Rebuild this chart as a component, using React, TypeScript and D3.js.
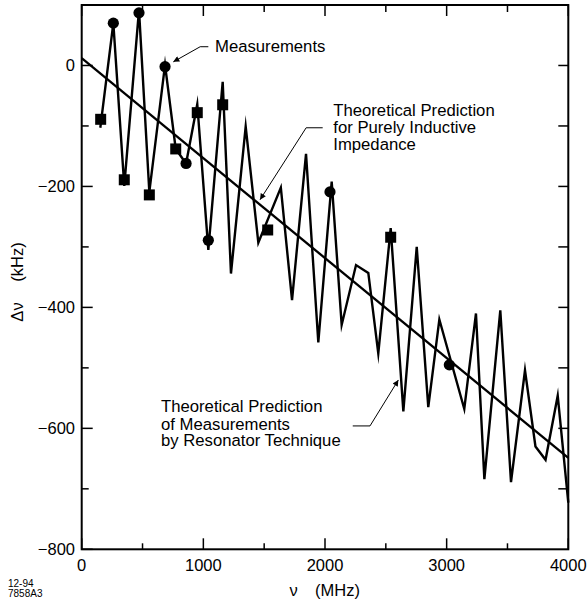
import React from 'react'
import * as d3 from 'd3'

// resonator-technique prediction (zigzag), MHz / kHz
const predFreq = [153, 260, 350, 471, 556, 685, 773, 858, 950, 1041, 1159, 1227, 1348, 1452, 1637, 1729, 1844, 1945, 2055, 2137, 2255, 2356, 2438, 2540, 2644, 2754, 2849, 2940, 3145, 3241, 3310, 3441, 3529, 3644, 3730, 3813, 3913, 4000]
const predShift = [-103, 70, -199, 92, -209, 1, -138, -162, -64, -305, -27, -344, -101, -293, -202, -388, -146, -458, -192, -429, -330, -343, -476, -269, -572, -300, -565, -420, -568, -410, -684, -405, -689, -504, -630, -652, -546, -723]

// measurements
const measFreq = [156, 260, 350, 471, 556, 685, 773, 858, 950, 1041, 1159, 1529, 2041, 2540, 3022]
const measShift = [-89, 70, -189, 87, -214, -2, -138, -162, -78, -289, -65, -272, -209, -284, -495]
const measShape = ['square', 'circle', 'square', 'circle', 'square', 'circle', 'square', 'circle', 'square', 'circle', 'square', 'square', 'circle', 'square', 'circle']

// purely inductive impedance (straight line)
const inductiveFreq = [0, 4000]
const inductiveShift = [12, -649]

const xMajor = [0, 1000, 2000, 3000, 4000]
const xMinor = [500, 1500, 2500, 3500]
const yMajor = [-800, -600, -400, -200, 0]
const yMinor = [-700, -500, -300, -100]
const yRight = [-700, -600, -500, -400, -300, -200, -100, 0]

const font = '"Liberation Sans", Arial, Helvetica, sans-serif'

export default function App() {
  const width = 588
  const height = 605
  const x = d3.scaleLinear().domain([0, 4000]).range([81.7, 568.3])
  const y = d3.scaleLinear().domain([-800, 100]).range([549.3, 5])
  const [x0, x1] = x.range()
  const [y0, y1] = y.range()

  const line = d3
    .line<number>()
    .x((d, i) => x(predFreq[i]))
    .y((d) => y(d))

  const fmt = (v: number) => (v < 0 ? '\u2212' + Math.abs(v) : String(v))

  // leader lines (data coordinates)
  const leaders = [
    { pts: [[1041, 31], [974, 31], [753, 6]] },
    { pts: [[1981, -103], [1845, -103], [1466, -222]] },
    { pts: [[2228, -596], [2370, -596], [2603, -520]] },
  ]
  const notes = [
    { fx: 1096, lines: ['Measurements'], base: [23] },
    { fx: 2068, lines: ['Theoretical Prediction', 'for Purely Inductive', 'Impedance'], base: [-83.5, -112, -140] },
    { fx: 652, lines: ['Theoretical Prediction', 'of Measurements', 'by Resonator Technique'], base: [-573, -602, -630] },
  ]

  return (
    <svg
      width={width}
      height={height}
      style={{ position: 'absolute', left: 0, top: 0, background: '#fff' }}
      fontFamily={font}
    >
      <defs>
        <marker id="arr" viewBox="0 0 10 10" refX="10" refY="5" markerWidth="8" markerHeight="6" markerUnits="userSpaceOnUse" orient="auto">
          <path d="M0,0 L10,5 L0,10 z" fill="#000" />
        </marker>
      </defs>

      {/* frame */}
      <rect x={x0} y={y1} width={x1 - x0} height={y0 - y1} fill="none" stroke="#000" strokeWidth={2} />

      {/* ticks */}
      {xMajor.map((v) => (
        <g key={'xM' + v}>
          <line x1={x(v)} x2={x(v)} y1={y0} y2={y0 - 11} stroke="#000" strokeWidth={1.5} />
          <line x1={x(v)} x2={x(v)} y1={y1} y2={y1 + 11} stroke="#000" strokeWidth={1.5} />
          <text x={x(v)} y={571} textAnchor="middle" fontSize={16.5}>{v}</text>
        </g>
      ))}
      {xMinor.map((v) => (
        <g key={'xm' + v}>
          <line x1={x(v)} x2={x(v)} y1={y0} y2={y0 - 6} stroke="#000" strokeWidth={1.5} />
          <line x1={x(v)} x2={x(v)} y1={y1} y2={y1 + 7} stroke="#000" strokeWidth={1.5} />
        </g>
      ))}
      {yMajor.map((v) => (
        <g key={'yM' + v}>
          <line x1={x0} x2={x0 + 11} y1={y(v)} y2={y(v)} stroke="#000" strokeWidth={1.5} />
          <text x={75} y={y(v)} dy="0.36em" textAnchor="end" fontSize={16.5}>{fmt(v)}</text>
        </g>
      ))}
      {yMinor.map((v) => (
        <line key={'ym' + v} x1={x0} x2={x0 + 7} y1={y(v)} y2={y(v)} stroke="#000" strokeWidth={1.5} />
      ))}
      {yRight.map((v) => (
        <line key={'yr' + v} x1={x1} x2={x1 - 10} y1={y(v)} y2={y(v)} stroke="#000" strokeWidth={1.5} />
      ))}

      {/* axis titles */}
      <text transform="translate(23,312) rotate(-90)" textAnchor="middle" fontSize={16.5}>Δν</text>
      <text transform="translate(23,262) rotate(-90)" textAnchor="middle" fontSize={16.5}>(kHz)</text>
      <text x={293.5} y={596} textAnchor="middle" fontSize={16.5}>ν</text>
      <text x={315} y={596} fontSize={16.5}>(MHz)</text>
      <text x={8} y={587} fontSize={10}>12-94</text>
      <text x={8} y={596.5} fontSize={10}>7858A3</text>

      {/* straight line */}
      <line
        x1={x(inductiveFreq[0])}
        y1={y(inductiveShift[0])}
        x2={x(inductiveFreq[1])}
        y2={y(inductiveShift[1])}
        stroke="#000"
        strokeWidth={2.3}
      />

      {/* zigzag */}
      <path d={line(predShift) || ''} fill="none" stroke="#000" strokeWidth={2.4} strokeLinejoin="miter" strokeMiterlimit={10} />

      {/* measurements */}
      {measFreq.map((f, i) =>
        measShape[i] === 'circle' ? (
          <circle key={'m' + i} cx={x(f)} cy={y(measShift[i])} r={5.6} fill="#000" />
        ) : (
          <rect key={'m' + i} x={x(f) - 5.5} y={y(measShift[i]) - 5.5} width={11} height={11} fill="#000" />
        )
      )}

      {/* annotations */}
      {leaders.map((l, i) => (
        <polyline
          key={'l' + i}
          points={l.pts.map((p) => `${x(p[0])},${y(p[1])}`).join(' ')}
          fill="none"
          stroke="#000"
          strokeWidth={1}
          markerEnd="url(#arr)"
        />
      ))}
      {notes.map((n, i) => (
        <text key={'n' + i} fontSize={16.7}>
          {n.lines.map((t, j) => (
            <tspan key={j} x={x(n.fx)} y={y(n.base[j])}>{t}</tspan>
          ))}
        </text>
      ))}
    </svg>
  )
}
